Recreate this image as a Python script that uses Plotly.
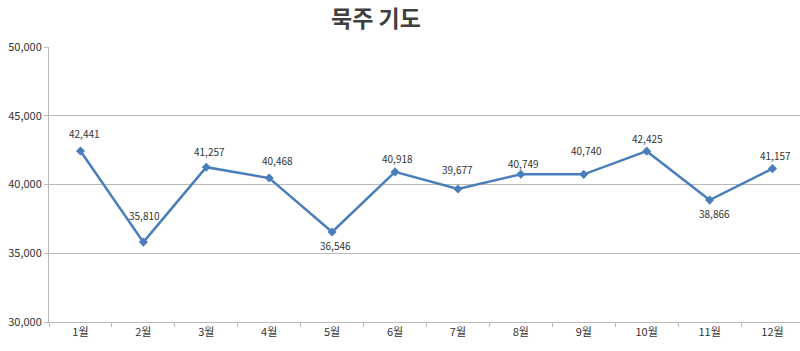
import plotly.graph_objects as go

months = ["1월", "2월", "3월", "4월", "5월", "6월", "7월", "8월", "9월", "10월", "11월", "12월"]
values = [42441, 35810, 41257, 40468, 36546, 40918, 39677, 40749, 40740, 42425, 38866, 41157]
y_ticks = [30000, 35000, 40000, 45000, 50000]

# label placement style (pixel offsets of each data label from its point)
label_dx = [4, 1, 3, 8, 3, 2, 0, 3, 3, 1, 5, 3]
label_dy = [17, 27, 16, 18, -14, 13, 19, 11, 24, 13, -13, 13]

font_family = "Noto Sans CJK KR, Noto Sans, sans-serif"
line_color = "#4A7EBB"
text_color = "#333333"
grid_color = "#B9B9B9"

fig = go.Figure()
fig.add_trace(go.Scatter(
    x=months, y=values, mode="lines+markers",
    line=dict(color=line_color, width=2.5),
    marker=dict(symbol="diamond", size=7, color=line_color),
    hoverinfo="skip", showlegend=False,
))

for m, v, dx, dy in zip(months, values, label_dx, label_dy):
    fig.add_annotation(
        x=m, y=v, text=f"{v:,}", showarrow=False,
        xshift=dx, yshift=dy,
        font=dict(family=font_family, size=10, color=text_color),
    )

fig.update_layout(
    width=800, height=351,
    margin=dict(l=49, r=0, t=47, b=29),
    paper_bgcolor="white", plot_bgcolor="white",
    title=dict(text="<b>묵주 기도</b>", x=0.47, xanchor="center", y=0.945, yanchor="middle",
               font=dict(family=font_family, size=23, color="#3F3F3F")),
    xaxis=dict(
        type="category", range=[-0.5, 11.437],
        tickson="boundaries", ticks="outside", ticklen=4, tickcolor=grid_color,
        showgrid=False, showline=True, linecolor=grid_color, linewidth=1,
        tickfont=dict(family=font_family, size=11, color=text_color),
        fixedrange=True,
    ),
    yaxis=dict(
        range=[30000, 50000], tickvals=y_ticks,
        ticktext=[f"{t:,}" for t in y_ticks],
        ticks="outside", ticklen=4, tickcolor=grid_color,
        showgrid=True, gridcolor=grid_color, gridwidth=1,
        showline=True, linecolor=grid_color, linewidth=1,
        zeroline=False,
        tickfont=dict(family=font_family, size=11, color=text_color),
        fixedrange=True,
    ),
)

fig.write_html("out.html")
